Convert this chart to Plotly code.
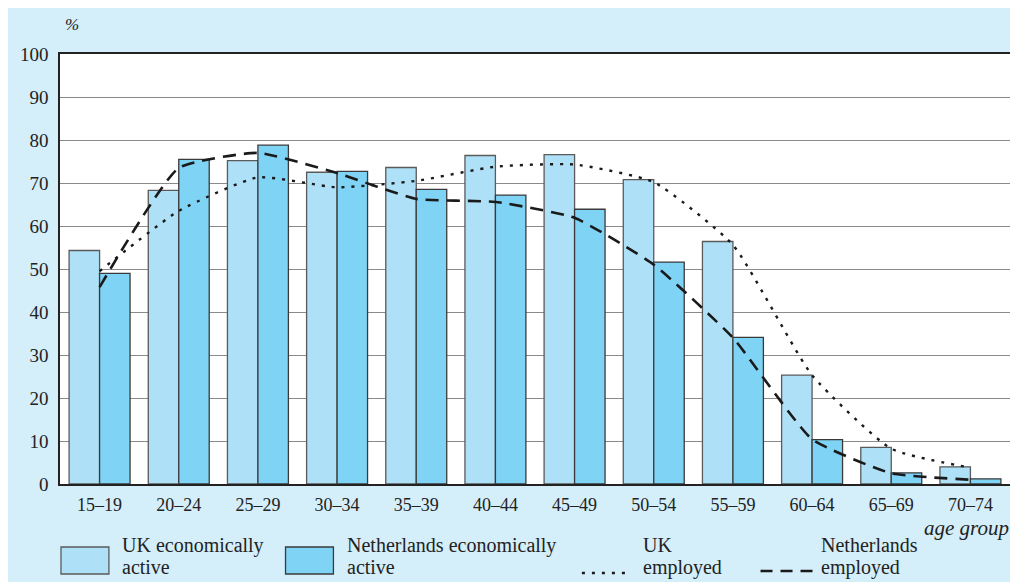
import plotly.graph_objects as go

age_groups = ["15–19", "20–24", "25–29", "30–34", "35–39", "40–44",
              "45–49", "50–54", "55–59", "60–64", "65–69", "70–74"]
uk_active = [54.3, 68.3, 75.2, 72.5, 73.6, 76.4, 76.6, 70.8, 56.4, 25.3, 8.5, 4.0]
nl_active = [49.0, 75.5, 78.8, 72.7, 68.5, 67.2, 63.9, 51.6, 34.1, 10.3, 2.6, 1.2]
uk_employed = [49.5, 63.5, 71.3, 69.0, 70.5, 73.8, 74.3, 70.2, 55.6, 25.3, 8.2, 3.8]
nl_employed = [45.8, 73.5, 77.0, 72.3, 66.3, 65.6, 61.9, 51.0, 34.0, 10.4, 2.5, 1.0]

BG = "#D4EEFA"
UK_COL = "#AEE1F8"
NL_COL = "#7FD3F5"
FONT = "Liberation Serif"
DOT = "3px,7px"
DASH = "13px,8px"

fig = go.Figure()
fig.add_trace(go.Bar(x=age_groups, y=uk_active, name="UK economically active",
                     marker=dict(color=UK_COL, line=dict(color="#5a5a5a", width=1.3)),
                     showlegend=False))
fig.add_trace(go.Bar(x=age_groups, y=nl_active, name="Netherlands economically active",
                     marker=dict(color=NL_COL, line=dict(color="#3a3a3a", width=1.3)),
                     showlegend=False))
fig.add_trace(go.Scatter(x=age_groups, y=uk_employed, mode="lines", name="UK employed",
                         line=dict(color="#1a1a1a", width=2.4, dash=DOT, shape="spline", smoothing=0.5),
                         showlegend=False))
fig.add_trace(go.Scatter(x=age_groups, y=nl_employed, mode="lines", name="Netherlands employed",
                         line=dict(color="#1a1a1a", width=2.6, dash=DASH, shape="spline", smoothing=0.45),
                         showlegend=False))

# page offset (browser body margin)
OFF = 8
W, H = 1018 - OFF, 582 - OFF
# plot area in screen pixels: x 60..1012, y 54..484
L = 60 - OFF
R = 1018 - 1012
T = 54 - OFF
B = 582 - 484
PW, PH = W - L - R, H - T - B

def px(x):  # screen x -> paper
    return (x - OFF - L) / PW

def py(y):  # screen y -> paper
    return (H - B - (y - OFF)) / PH

shapes = [
    dict(type="rect", xref="paper", yref="paper", x0=px(61), x1=px(109), y0=py(574), y1=py(547),
         fillcolor=UK_COL, line=dict(color="#5a5a5a", width=1.3)),
    dict(type="rect", xref="paper", yref="paper", x0=px(286), x1=px(334), y0=py(574), y1=py(547),
         fillcolor=NL_COL, line=dict(color="#3a3a3a", width=1.3)),
    dict(type="line", xref="paper", yref="paper", x0=px(583), x1=px(627), y0=py(573), y1=py(573),
         line=dict(color="#1a1a1a", width=2.4, dash=DOT)),
    dict(type="line", xref="paper", yref="paper", x0=px(762), x1=px(816), y0=py(571), y1=py(571),
         line=dict(color="#1a1a1a", width=2.6, dash="12px,8px")),
]

tf = dict(family=FONT, size=20, color="#222")
legend_text = [
    (120, "UK economically", "active"),
    (346, "Netherlands economically", "active"),
    (642, "UK", "employed"),
    (821, "Netherlands", "employed"),
]
annotations = []
for x, l1, l2 in legend_text:
    annotations.append(dict(xref="paper", yref="paper", x=px(x), y=py(545), text=l1,
                            showarrow=False, xanchor="left", yanchor="middle", font=tf))
    annotations.append(dict(xref="paper", yref="paper", x=px(x), y=py(567), text=l2,
                            showarrow=False, xanchor="left", yanchor="middle", font=tf))
annotations += [
    dict(xref="paper", yref="paper", x=px(1013), y=py(528), text="<i>age group</i>",
         showarrow=False, xanchor="right", yanchor="middle", font=dict(family=FONT, size=21, color="#222")),
    dict(xref="paper", yref="paper", x=px(63), y=py(25), text="<i>%</i>",
         showarrow=False, xanchor="left", yanchor="middle", font=dict(family=FONT, size=17, color="#222")),
]

fig.update_layout(
    width=W, height=H,
    margin=dict(l=L, r=R, t=T, b=B, pad=0),
    paper_bgcolor=BG, plot_bgcolor="white",
    barmode="group", bargap=0.23, bargroupgap=0,
    shapes=shapes, annotations=annotations,
    font=dict(family=FONT, size=17, color="#222"),
)
fig.update_xaxes(type="category", showline=True, linecolor="#222", linewidth=1.5, mirror=True,
                 ticks="", showgrid=False, tickfont=dict(family=FONT, size=18, color="#222"),
                 ticklabelstandoff=4)
fig.update_yaxes(range=[0, 100], dtick=10, showline=True, linecolor="#222", linewidth=1.5, mirror=True,
                 showgrid=True, gridcolor="#8a8a8a", gridwidth=1.3, ticks="",
                 tickfont=dict(family=FONT, size=19, color="#222"), zeroline=False,
                 ticklabelstandoff=6)

fig.write_html("out.html")
